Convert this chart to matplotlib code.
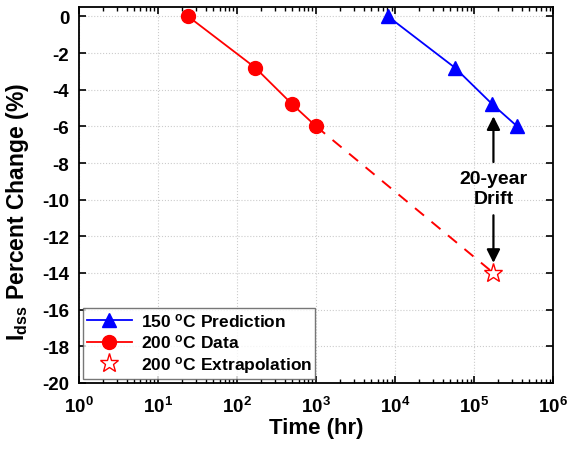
import matplotlib
matplotlib.use("Agg")
import matplotlib.pyplot as plt
import numpy as np

plt.rcParams['font.family'] = ['Liberation Sans', 'DejaVu Sans']
plt.rcParams['font.weight'] = 'bold'
plt.rcParams['mathtext.fontset'] = 'custom'
plt.rcParams['mathtext.rm'] = 'Liberation Sans:bold'
plt.rcParams['mathtext.it'] = 'Liberation Sans:bold'
plt.rcParams['mathtext.bf'] = 'Liberation Sans:bold'
plt.rcParams['axes.unicode_minus'] = False

# Data
t150 = [8100, 57000, 170000, 350000]
d150 = [0, -2.8, -4.8, -6.0]
t200 = [24, 170, 500, 1000]
d200 = [0, -2.8, -4.8, -6.0]
t_ext = [175200]
d_ext = [-14.0]
drift_t = 175200
drift_top = -5.3
drift_bot = -13.6
drift_text_y = -9.4

fig = plt.figure(figsize=(5.68, 4.56), dpi=100)
ax = fig.add_axes([0.139, 0.158, 0.835, 0.824])

ax.plot(t150, d150, color='blue', marker='^', markersize=10, lw=1.3,
        label='150 $^\\mathregular{o}$C Prediction')
ax.plot(t200, d200, color='red', marker='o', markersize=10, lw=1.3,
        label='200 $^\\mathregular{o}$C Data')
ax.plot([t200[-1], t_ext[0]], [d200[-1], d_ext[0]], color='red', lw=1.4,
        ls=(0, (6, 5)))
ax.plot(t_ext, d_ext, ls='none', marker='*', markersize=14, mfc='white',
        mec='red', mew=1.0, label='200 $^\\mathregular{o}$C Extrapolation')

ax.annotate('', xy=(drift_t, drift_top), xytext=(drift_t, -8.1),
            arrowprops=dict(arrowstyle='-|>', color='black', lw=1.6,
                            mutation_scale=20))
ax.annotate('', xy=(drift_t, drift_bot), xytext=(drift_t, -10.7),
            arrowprops=dict(arrowstyle='-|>', color='black', lw=1.6,
                            mutation_scale=20))
ax.text(drift_t, drift_text_y, '20-year\nDrift', ha='center', va='center',
        fontsize=14, fontweight='bold', linespacing=1.2)

ax.set_xscale('log')
ax.set_xlim(1, 1e6)
ax.set_ylim(-20, 0.5)
ax.set_yticks(np.arange(-20, 1, 2))
ax.set_xticks([1, 10, 100, 1e3, 1e4, 1e5, 1e6])
ax.grid(True, which='major', color='#cccccc', ls=':', lw=0.8)
ax.tick_params(which='both', direction='in', top=True, right=True,
               labelsize=13.5)
ax.tick_params(axis='x', which='major', pad=9)
ax.tick_params(axis='y', which='major', pad=7)
ax.tick_params(which='major', length=5, width=1.2)
ax.tick_params(which='minor', length=3, width=1)
for s in ax.spines.values():
    s.set_linewidth(1.3)

ax.set_xlabel('Time (hr)', fontsize=16, fontweight='bold', labelpad=1)
ax.set_ylabel('I$_\\mathregular{dss}$ Percent Change (%)', fontsize=16.5,
              fontweight='bold', labelpad=1)
ax.yaxis.set_label_coords(-0.102, 0.457)

leg = ax.legend(loc='lower left', fontsize=12.5, frameon=True, fancybox=False,
                edgecolor='#555555', borderaxespad=0.25, handlelength=2.6,
                labelspacing=0.2, borderpad=0.2, handletextpad=0.5)
leg.get_frame().set_linewidth(1.0)

fig.savefig('out.png', dpi=100)
